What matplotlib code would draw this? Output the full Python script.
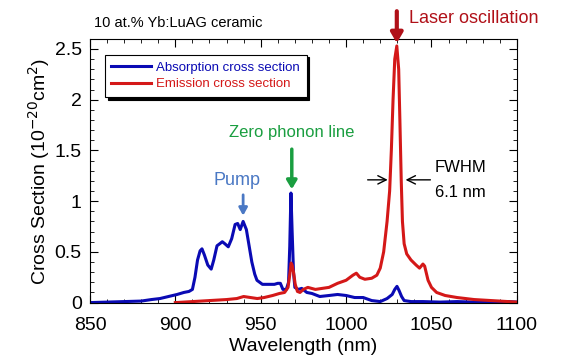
import matplotlib.pyplot as plt
from matplotlib.ticker import MultipleLocator, FuncFormatter

plt.rcParams['font.family'] = ['Liberation Sans', 'DejaVu Sans']

# absorption cross section (blue)
abs_wl = [850, 860, 870, 880, 886, 891, 896, 901, 905, 908, 910, 911.5, 913, 914.5, 915.6,
          917, 919, 921, 922.5, 924.4, 926, 927.5, 929, 931, 933, 935, 936.5, 938, 939.7,
          941.6, 943, 944.8, 946.5, 947.8, 951, 955, 958, 960, 961.5, 963, 965, 966.3,
          967, 967.7, 968.4, 969.2, 970, 972, 974, 977, 980, 984.6, 990, 995, 1000,
          1005, 1010, 1015, 1020, 1024, 1027, 1028.5, 1029.8, 1031, 1032.5, 1034, 1038,
          1045, 1055, 1065, 1075, 1085, 1095, 1100]
abs_cs = [0.0, 0.005, 0.01, 0.015, 0.03, 0.04, 0.06, 0.08, 0.1, 0.11, 0.13, 0.25, 0.42, 0.51, 0.53,
          0.47, 0.37, 0.33, 0.42, 0.56, 0.58, 0.6, 0.58, 0.55, 0.63, 0.77, 0.78, 0.72, 0.8,
          0.72, 0.58, 0.4, 0.28, 0.22, 0.18, 0.18, 0.18, 0.19, 0.19, 0.13, 0.13, 0.2,
          0.55, 1.08, 0.7, 0.3, 0.15, 0.13, 0.14, 0.1, 0.09, 0.06, 0.07, 0.08, 0.07,
          0.05, 0.05, 0.02, 0.01, 0.04, 0.08, 0.13, 0.16, 0.12, 0.06, 0.02, 0.01,
          0.01, 0.005, 0.01, 0.005, 0.01, 0.01, 0.005]

# emission cross section (red)
em_wl = [900, 910, 920, 930, 936, 940, 944, 948, 952, 957, 961, 964, 966, 967.2, 967.8,
         968.4, 969.2, 970.2, 971.5, 973, 975, 977.6, 982, 986, 990, 995, 1000, 1004,
         1006, 1008, 1011, 1015, 1018, 1020, 1022, 1024, 1025.5, 1026.5, 1027.5, 1028.5,
         1029.7, 1030.8, 1031.5, 1032.3, 1033, 1034, 1035.5, 1038, 1041, 1043, 1045,
         1046, 1048, 1050, 1053, 1058, 1065, 1075, 1090, 1100]
em_cs = [0.0, 0.01, 0.02, 0.03, 0.04, 0.06, 0.05, 0.04, 0.05, 0.07, 0.09, 0.1, 0.15, 0.3, 0.39,
         0.37, 0.3, 0.18, 0.11, 0.1, 0.13, 0.15, 0.13, 0.14, 0.15, 0.19, 0.22, 0.27,
         0.29, 0.25, 0.23, 0.24, 0.27, 0.34, 0.5, 0.8, 1.1, 1.5, 2.0, 2.4,
         2.53, 2.3, 1.8, 1.2, 0.8, 0.58, 0.48, 0.42, 0.37, 0.34, 0.38,
         0.36, 0.22, 0.15, 0.1, 0.07, 0.05, 0.03, 0.015, 0.005]

fig = plt.figure(figsize=(5.73, 3.63), dpi=100)
ax = fig.add_axes([0.157, 0.165, 0.745, 0.728])

ax.plot(abs_wl, abs_cs, color='#0a0ab4', lw=2.2, label='Absorption cross section')
ax.plot(em_wl, em_cs, color='#d41818', lw=2.2, label='Emission cross section')

ax.set_xlim(850, 1100)
ax.set_ylim(-0.005, 2.6)
ax.xaxis.set_major_locator(MultipleLocator(50))
ax.xaxis.set_minor_locator(MultipleLocator(10))
ax.yaxis.set_major_locator(MultipleLocator(0.5))
ax.yaxis.set_minor_locator(MultipleLocator(0.1))
ax.yaxis.set_major_formatter(FuncFormatter(lambda v, p: '%g' % v))
ax.tick_params(which='both', direction='in', top=True, right=True, labelsize=14)
ax.tick_params(which='major', length=6)
ax.tick_params(which='minor', length=3)
ax.tick_params(axis='x', pad=10)
ax.tick_params(axis='y', pad=6)
ax.set_xlabel('Wavelength (nm)', fontsize=14, labelpad=3)
ax.set_ylabel('Cross Section (10$^{-20}$cm$^2$)', fontsize=14, labelpad=2)

leg = ax.legend(loc='upper left', bbox_to_anchor=(0.035, 0.94), borderaxespad=0,
                fontsize=9.5, labelcolor='linecolor', fancybox=False, framealpha=1,
                edgecolor='black', handlelength=3.0, handletextpad=0.4,
                borderpad=0.5, labelspacing=0.35,
                shadow={'color': 'black', 'alpha': 1, 'ox': 2, 'oy': -2})
leg.get_frame().set_linewidth(0.8)

ax.text(0.01, 1.06, '10 at.% Yb:LuAG ceramic', transform=ax.transAxes, fontsize=10.5,
        ha='left', va='center')

# laser oscillation
ax.annotate('', xy=(1029.7, 2.53), xytext=(1029.7, 2.9), annotation_clip=False,
            arrowprops=dict(arrowstyle='-|>,head_width=0.35,head_length=0.6',
                            color='#b01018', lw=3))
ax.text(1037, 2.8, 'Laser oscillation', color='#b01018', fontsize=13, ha='left', va='center')

# zero phonon line
ax.annotate('', xy=(968.2, 1.09), xytext=(968.2, 1.54),
            arrowprops=dict(arrowstyle='-|>,head_width=0.3,head_length=0.5',
                            color='#1a9e40', lw=2.5))
ax.text(968.2, 1.68, 'Zero phonon line', color='#1a9e40', fontsize=12, ha='center', va='center')

# pump
ax.annotate('', xy=(939.7, 0.83), xytext=(939.7, 1.09),
            arrowprops=dict(arrowstyle='-|>,head_width=0.25,head_length=0.45',
                            color='#4a78c4', lw=2))
ax.text(936, 1.2, 'Pump', color='#4a78c4', fontsize=13, ha='center', va='center')

# FWHM
ax.annotate('', xy=(1026.0, 1.21), xytext=(1011, 1.21),
            arrowprops=dict(arrowstyle='->,head_width=0.3,head_length=0.6', color='black', lw=1))
ax.annotate('', xy=(1033.2, 1.21), xytext=(1051, 1.21),
            arrowprops=dict(arrowstyle='->,head_width=0.3,head_length=0.6', color='black', lw=1))
ax.text(1052, 1.33, 'FWHM', fontsize=12, ha='left', va='center')
ax.text(1052, 1.09, '6.1 nm', fontsize=12, ha='left', va='center')

fig.savefig('out.png', dpi=100)
